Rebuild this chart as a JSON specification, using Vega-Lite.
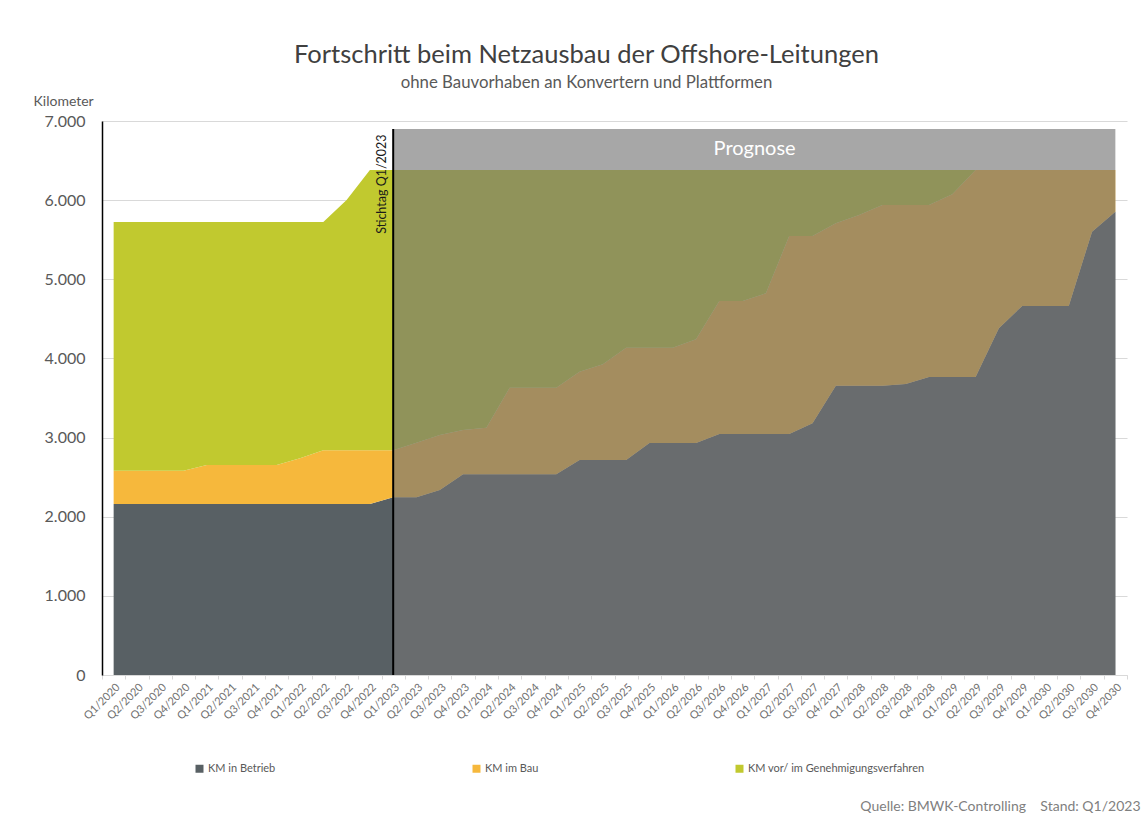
{
  "$schema": "https://vega.github.io/schema/vega-lite/v6.json",
  "width": 1025,
  "height": 554,
  "autosize": {"type": "none"},
  "padding": {"left": 102, "top": 121, "right": 18, "bottom": 149},
  "background": "white",
  "config": {"view": {"stroke": null}, "font": "Lato"},
  "title": {
    "text": "Fortschritt beim Netzausbau der Offshore-Leitungen",
    "subtitle": "ohne Bauvorhaben an Konvertern und Plattformen",
    "anchor": "middle",
    "frame": "group",
    "dx": -28,
    "offset": 2,
    "font": "Lato",
    "fontSize": 25.5,
    "fontWeight": "normal",
    "color": "#404040",
    "subtitleFont": "Lato",
    "subtitleFontSize": 16.8,
    "subtitleColor": "#595959",
    "subtitlePadding": 7
  },
  "layer": [
    {
      "data": {
        "values": [
          {"q": "Q1/2020", "s": "KM in Betrieb", "v": 2160}, {"q": "Q1/2020", "s": "KM im Bau", "v": 422}, {"q": "Q1/2020", "s": "KM vor/ im Genehmigungsverfahren", "v": 3142},
          {"q": "Q2/2020", "s": "KM in Betrieb", "v": 2160}, {"q": "Q2/2020", "s": "KM im Bau", "v": 422}, {"q": "Q2/2020", "s": "KM vor/ im Genehmigungsverfahren", "v": 3142},
          {"q": "Q3/2020", "s": "KM in Betrieb", "v": 2160}, {"q": "Q3/2020", "s": "KM im Bau", "v": 422}, {"q": "Q3/2020", "s": "KM vor/ im Genehmigungsverfahren", "v": 3142},
          {"q": "Q4/2020", "s": "KM in Betrieb", "v": 2160}, {"q": "Q4/2020", "s": "KM im Bau", "v": 422}, {"q": "Q4/2020", "s": "KM vor/ im Genehmigungsverfahren", "v": 3142},
          {"q": "Q1/2021", "s": "KM in Betrieb", "v": 2160}, {"q": "Q1/2021", "s": "KM im Bau", "v": 494}, {"q": "Q1/2021", "s": "KM vor/ im Genehmigungsverfahren", "v": 3070},
          {"q": "Q2/2021", "s": "KM in Betrieb", "v": 2160}, {"q": "Q2/2021", "s": "KM im Bau", "v": 494}, {"q": "Q2/2021", "s": "KM vor/ im Genehmigungsverfahren", "v": 3070},
          {"q": "Q3/2021", "s": "KM in Betrieb", "v": 2160}, {"q": "Q3/2021", "s": "KM im Bau", "v": 494}, {"q": "Q3/2021", "s": "KM vor/ im Genehmigungsverfahren", "v": 3070},
          {"q": "Q4/2021", "s": "KM in Betrieb", "v": 2160}, {"q": "Q4/2021", "s": "KM im Bau", "v": 494}, {"q": "Q4/2021", "s": "KM vor/ im Genehmigungsverfahren", "v": 3070},
          {"q": "Q1/2022", "s": "KM in Betrieb", "v": 2160}, {"q": "Q1/2022", "s": "KM im Bau", "v": 578}, {"q": "Q1/2022", "s": "KM vor/ im Genehmigungsverfahren", "v": 2986},
          {"q": "Q2/2022", "s": "KM in Betrieb", "v": 2160}, {"q": "Q2/2022", "s": "KM im Bau", "v": 679}, {"q": "Q2/2022", "s": "KM vor/ im Genehmigungsverfahren", "v": 2885},
          {"q": "Q3/2022", "s": "KM in Betrieb", "v": 2160}, {"q": "Q3/2022", "s": "KM im Bau", "v": 679}, {"q": "Q3/2022", "s": "KM vor/ im Genehmigungsverfahren", "v": 3163},
          {"q": "Q4/2022", "s": "KM in Betrieb", "v": 2160}, {"q": "Q4/2022", "s": "KM im Bau", "v": 679}, {"q": "Q4/2022", "s": "KM vor/ im Genehmigungsverfahren", "v": 3542},
          {"q": "Q1/2023", "s": "KM in Betrieb", "v": 2245}, {"q": "Q1/2023", "s": "KM im Bau", "v": 596}, {"q": "Q1/2023", "s": "KM vor/ im Genehmigungsverfahren", "v": 3540},
          {"q": "Q2/2023", "s": "KM in Betrieb", "v": 2245}, {"q": "Q2/2023", "s": "KM im Bau", "v": 690}, {"q": "Q2/2023", "s": "KM vor/ im Genehmigungsverfahren", "v": 3446},
          {"q": "Q3/2023", "s": "KM in Betrieb", "v": 2338}, {"q": "Q3/2023", "s": "KM im Bau", "v": 695}, {"q": "Q3/2023", "s": "KM vor/ im Genehmigungsverfahren", "v": 3348},
          {"q": "Q4/2023", "s": "KM in Betrieb", "v": 2536}, {"q": "Q4/2023", "s": "KM im Bau", "v": 560}, {"q": "Q4/2023", "s": "KM vor/ im Genehmigungsverfahren", "v": 3285},
          {"q": "Q1/2024", "s": "KM in Betrieb", "v": 2536}, {"q": "Q1/2024", "s": "KM im Bau", "v": 589}, {"q": "Q1/2024", "s": "KM vor/ im Genehmigungsverfahren", "v": 3256},
          {"q": "Q2/2024", "s": "KM in Betrieb", "v": 2536}, {"q": "Q2/2024", "s": "KM im Bau", "v": 1095}, {"q": "Q2/2024", "s": "KM vor/ im Genehmigungsverfahren", "v": 2750},
          {"q": "Q3/2024", "s": "KM in Betrieb", "v": 2536}, {"q": "Q3/2024", "s": "KM im Bau", "v": 1095}, {"q": "Q3/2024", "s": "KM vor/ im Genehmigungsverfahren", "v": 2750},
          {"q": "Q4/2024", "s": "KM in Betrieb", "v": 2536}, {"q": "Q4/2024", "s": "KM im Bau", "v": 1095}, {"q": "Q4/2024", "s": "KM vor/ im Genehmigungsverfahren", "v": 2750},
          {"q": "Q1/2025", "s": "KM in Betrieb", "v": 2717}, {"q": "Q1/2025", "s": "KM im Bau", "v": 1116}, {"q": "Q1/2025", "s": "KM vor/ im Genehmigungsverfahren", "v": 2548},
          {"q": "Q2/2025", "s": "KM in Betrieb", "v": 2717}, {"q": "Q2/2025", "s": "KM im Bau", "v": 1209}, {"q": "Q2/2025", "s": "KM vor/ im Genehmigungsverfahren", "v": 2455},
          {"q": "Q3/2025", "s": "KM in Betrieb", "v": 2717}, {"q": "Q3/2025", "s": "KM im Bau", "v": 1419}, {"q": "Q3/2025", "s": "KM vor/ im Genehmigungsverfahren", "v": 2245},
          {"q": "Q4/2025", "s": "KM in Betrieb", "v": 2932}, {"q": "Q4/2025", "s": "KM im Bau", "v": 1204}, {"q": "Q4/2025", "s": "KM vor/ im Genehmigungsverfahren", "v": 2245},
          {"q": "Q1/2026", "s": "KM in Betrieb", "v": 2932}, {"q": "Q1/2026", "s": "KM im Bau", "v": 1204}, {"q": "Q1/2026", "s": "KM vor/ im Genehmigungsverfahren", "v": 2245},
          {"q": "Q2/2026", "s": "KM in Betrieb", "v": 2932}, {"q": "Q2/2026", "s": "KM im Bau", "v": 1309}, {"q": "Q2/2026", "s": "KM vor/ im Genehmigungsverfahren", "v": 2140},
          {"q": "Q3/2026", "s": "KM in Betrieb", "v": 3045}, {"q": "Q3/2026", "s": "KM im Bau", "v": 1681}, {"q": "Q3/2026", "s": "KM vor/ im Genehmigungsverfahren", "v": 1655},
          {"q": "Q4/2026", "s": "KM in Betrieb", "v": 3045}, {"q": "Q4/2026", "s": "KM im Bau", "v": 1681}, {"q": "Q4/2026", "s": "KM vor/ im Genehmigungsverfahren", "v": 1655},
          {"q": "Q1/2027", "s": "KM in Betrieb", "v": 3045}, {"q": "Q1/2027", "s": "KM im Bau", "v": 1778}, {"q": "Q1/2027", "s": "KM vor/ im Genehmigungsverfahren", "v": 1558},
          {"q": "Q2/2027", "s": "KM in Betrieb", "v": 3045}, {"q": "Q2/2027", "s": "KM im Bau", "v": 2502}, {"q": "Q2/2027", "s": "KM vor/ im Genehmigungsverfahren", "v": 834},
          {"q": "Q3/2027", "s": "KM in Betrieb", "v": 3180}, {"q": "Q3/2027", "s": "KM im Bau", "v": 2367}, {"q": "Q3/2027", "s": "KM vor/ im Genehmigungsverfahren", "v": 834},
          {"q": "Q4/2027", "s": "KM in Betrieb", "v": 3656}, {"q": "Q4/2027", "s": "KM im Bau", "v": 2051}, {"q": "Q4/2027", "s": "KM vor/ im Genehmigungsverfahren", "v": 674},
          {"q": "Q1/2028", "s": "KM in Betrieb", "v": 3656}, {"q": "Q1/2028", "s": "KM im Bau", "v": 2156}, {"q": "Q1/2028", "s": "KM vor/ im Genehmigungsverfahren", "v": 569},
          {"q": "Q2/2028", "s": "KM in Betrieb", "v": 3656}, {"q": "Q2/2028", "s": "KM im Bau", "v": 2283}, {"q": "Q2/2028", "s": "KM vor/ im Genehmigungsverfahren", "v": 442},
          {"q": "Q3/2028", "s": "KM in Betrieb", "v": 3677}, {"q": "Q3/2028", "s": "KM im Bau", "v": 2262}, {"q": "Q3/2028", "s": "KM vor/ im Genehmigungsverfahren", "v": 442},
          {"q": "Q4/2028", "s": "KM in Betrieb", "v": 3765}, {"q": "Q4/2028", "s": "KM im Bau", "v": 2174}, {"q": "Q4/2028", "s": "KM vor/ im Genehmigungsverfahren", "v": 442},
          {"q": "Q1/2029", "s": "KM in Betrieb", "v": 3765}, {"q": "Q1/2029", "s": "KM im Bau", "v": 2309}, {"q": "Q1/2029", "s": "KM vor/ im Genehmigungsverfahren", "v": 307},
          {"q": "Q2/2029", "s": "KM in Betrieb", "v": 3765}, {"q": "Q2/2029", "s": "KM im Bau", "v": 2616}, {"q": "Q2/2029", "s": "KM vor/ im Genehmigungsverfahren", "v": 0},
          {"q": "Q3/2029", "s": "KM in Betrieb", "v": 4381}, {"q": "Q3/2029", "s": "KM im Bau", "v": 2000}, {"q": "Q3/2029", "s": "KM vor/ im Genehmigungsverfahren", "v": 0},
          {"q": "Q4/2029", "s": "KM in Betrieb", "v": 4663}, {"q": "Q4/2029", "s": "KM im Bau", "v": 1718}, {"q": "Q4/2029", "s": "KM vor/ im Genehmigungsverfahren", "v": 0},
          {"q": "Q1/2030", "s": "KM in Betrieb", "v": 4663}, {"q": "Q1/2030", "s": "KM im Bau", "v": 1718}, {"q": "Q1/2030", "s": "KM vor/ im Genehmigungsverfahren", "v": 0},
          {"q": "Q2/2030", "s": "KM in Betrieb", "v": 4663}, {"q": "Q2/2030", "s": "KM im Bau", "v": 1718}, {"q": "Q2/2030", "s": "KM vor/ im Genehmigungsverfahren", "v": 0},
          {"q": "Q3/2030", "s": "KM in Betrieb", "v": 5602}, {"q": "Q3/2030", "s": "KM im Bau", "v": 779}, {"q": "Q3/2030", "s": "KM vor/ im Genehmigungsverfahren", "v": 0},
          {"q": "Q4/2030", "s": "KM in Betrieb", "v": 5854}, {"q": "Q4/2030", "s": "KM im Bau", "v": 527}, {"q": "Q4/2030", "s": "KM vor/ im Genehmigungsverfahren", "v": 0}
        ]
      },
      "transform": [
        {
          "lookup": "s",
          "from": {
            "data": {"values": [
              {"s": "KM in Betrieb", "k": 1},
              {"s": "KM im Bau", "k": 2},
              {"s": "KM vor/ im Genehmigungsverfahren", "k": 3}
            ]},
            "key": "s",
            "fields": ["k"]
          }
        }
      ],
      "mark": {"type": "area", "interpolate": "linear"},
      "encoding": {
        "x": {
          "field": "q",
          "type": "ordinal",
          "bandPosition": 0.5,
          "scale": {
            "type": "band",
            "paddingInner": 0,
            "paddingOuter": 0,
            "domain": ["Q1/2020","Q2/2020","Q3/2020","Q4/2020","Q1/2021","Q2/2021","Q3/2021","Q4/2021","Q1/2022","Q2/2022","Q3/2022","Q4/2022","Q1/2023","Q2/2023","Q3/2023","Q4/2023","Q1/2024","Q2/2024","Q3/2024","Q4/2024","Q1/2025","Q2/2025","Q3/2025","Q4/2025","Q1/2026","Q2/2026","Q3/2026","Q4/2026","Q1/2027","Q2/2027","Q3/2027","Q4/2027","Q1/2028","Q2/2028","Q3/2028","Q4/2028","Q1/2029","Q2/2029","Q3/2029","Q4/2029","Q1/2030","Q2/2030","Q3/2030","Q4/2030"]
          },
          "axis": {
            "title": "Quelle: BMWK-Controlling\u00a0\u00a0\u00a0\u00a0Stand: Q1/2023",
            "titleX": 1038,
            "titleY": 135,
            "titleAlign": "right",
            "titleAnchor": null,
            "titleBaseline": "alphabetic",
            "titleFont": "Lato",
            "titleFontSize": 14,
            "titleFontWeight": "normal",
            "titleColor": "#7f7f7f",
            "labelAngle": -45,
            "labelFont": "Lato",
            "labelFontSize": 11,
            "labelColor": "#6f6f6f",
            "labelPadding": 2,
            "tickBand": "extent",
            "tickColor": "#d9d9d9",
            "tickSize": 4,
            "domainColor": "#d9d9d9",
            "grid": false
          }
        },
        "y": {
          "field": "v",
          "type": "quantitative",
          "stack": "zero",
          "scale": {"domain": [0, 7000], "nice": false},
          "axis": {
            "title": "Kilometer",
            "titleAngle": 0,
            "titleX": -69,
            "titleY": -16,
            "titleAlign": "left",
            "titleBaseline": "alphabetic",
            "titleFont": "Lato",
            "titleFontSize": 14,
            "titleFontWeight": "normal",
            "titleColor": "#595959",
            "values": [0, 1000, 2000, 3000, 4000, 5000, 6000, 7000],
            "labelExpr": "replace(format(datum.value, ','), ',', '.')",
            "labelFont": "Lato",
            "labelFontSize": 16,
            "labelColor": "#595959",
            "labelPadding": 17,
            "ticks": false,
            "domainColor": "#000000",
            "domainWidth": 1.5,
            "gridColor": "#d9d9d9",
            "gridWidth": 1
          }
        },
        "order": {"field": "k", "type": "quantitative", "sort": "ascending"},
        "color": {
          "field": "s",
          "type": "nominal",
          "scale": {
            "domain": ["KM in Betrieb", "KM im Bau", "KM vor/ im Genehmigungsverfahren"],
            "range": ["#586064", "#f6b83c", "#c1c92f"]
          },
          "legend": {
            "orient": "none",
            "legendX": 92,
            "legendY": 642,
            "direction": "horizontal",
            "columns": 3,
            "columnPadding": 195,
            "title": null,
            "symbolType": "square",
            "symbolSize": 64,
            "symbolStrokeWidth": 0,
            "labelFont": "Lato",
            "labelFontSize": 11,
            "labelLimit": 400,
            "labelColor": "#595959",
            "labelOffset": 3
          }
        }
      }
    },
    {
      "data": {"values": [{"q": "Q1/2023", "v": 6900}, {"q": "Q4/2030", "v": 6900}]},
      "mark": {"type": "area", "color": "#737373", "opacity": 0.63},
      "encoding": {
        "x": {"field": "q", "type": "ordinal", "bandPosition": 0.5},
        "y": {"field": "v", "type": "quantitative"}
      }
    },
    {
      "data": {"values": [{"q": "Q1/2023", "lo": 0, "hi": 6900}]},
      "mark": {"type": "rule", "color": "#000000", "strokeWidth": 2},
      "encoding": {
        "x": {"field": "q", "type": "ordinal", "bandPosition": 0.5},
        "y": {"field": "lo", "type": "quantitative"},
        "y2": {"field": "hi"}
      }
    },
    {
      "data": {"values": [{"q": "Q4/2026", "v": 6640, "label": "Prognose"}]},
      "mark": {"type": "text", "color": "#ffffff", "font": "Lato", "fontSize": 20, "align": "center", "baseline": "middle", "dx": 12},
      "encoding": {
        "x": {"field": "q", "type": "ordinal", "bandPosition": 0.5},
        "y": {"field": "v", "type": "quantitative"},
        "text": {"field": "label"}
      }
    },
    {
      "data": {"values": [{"q": "Q1/2023", "v": 6830, "label": "Stichtag Q1/2023"}]},
      "mark": {"type": "text", "color": "#1a1a1a", "font": "Lato", "fontSize": 12.5, "angle": 270, "align": "right", "baseline": "bottom", "dy": -4},
      "encoding": {
        "x": {"field": "q", "type": "ordinal", "bandPosition": 0.5},
        "y": {"field": "v", "type": "quantitative"},
        "text": {"field": "label"}
      }
    }
  ]
}
